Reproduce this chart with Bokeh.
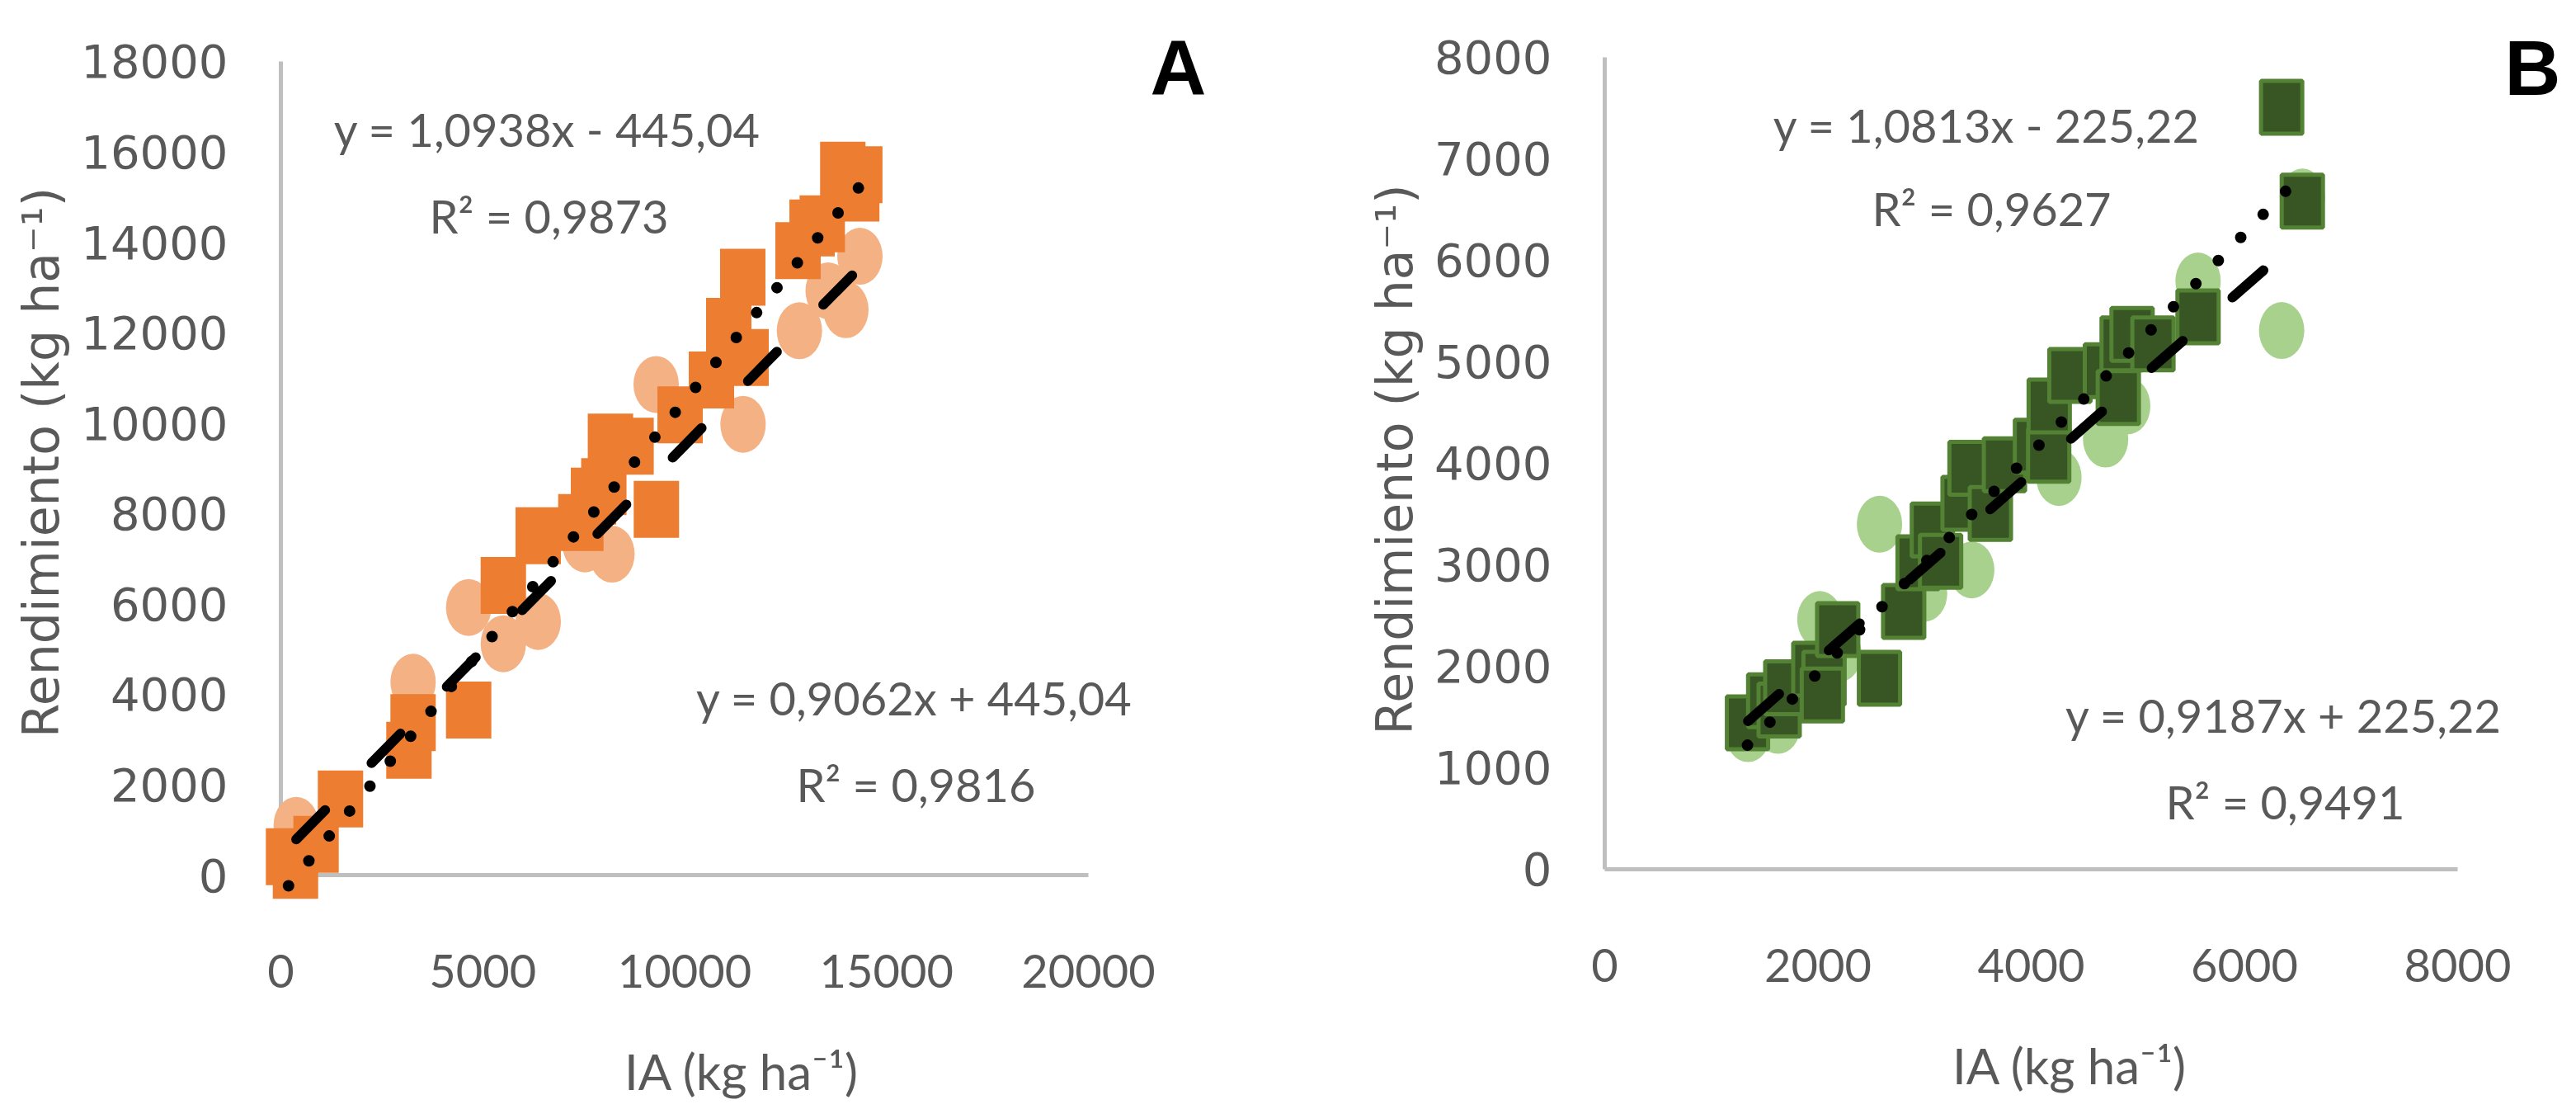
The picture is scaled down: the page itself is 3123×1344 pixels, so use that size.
from bokeh.plotting import figure
from bokeh.models import Range1d, FixedTicker, Label
from bokeh.layouts import row
from bokeh.embed import file_html
from bokeh.resources import INLINE

# ---------------- Panel A data (IA vs Rendimiento) ----------------
a_sq_x = [190, 362, 872, 1477, 3172, 3275, 4651, 5510, 6374, 7430, 7743, 7999, 8163,
          8674, 9301, 9888, 10664, 11093, 11522, 11440, 12809, 13157, 13409, 13917, 14338, 14263]
a_sq_y = [407, 104, 681, 1685, 2763, 3372, 3651, 6407, 7508, 7800, 8385, 8593, 9578,
          9487, 8092, 10182, 10952, 12139, 11451, 13224, 13813, 14318, 14409, 15595, 15493, 15090]
a_ci_x = [380, 3275, 4651, 5510, 6374, 7532, 8200, 9295, 11447, 12843, 13555, 13994, 14342]
a_ci_y = [1100, 4266, 5920, 5117, 5610, 7327, 7101, 10855, 9973, 12042, 12925, 12508, 13690]
a_sq_eq = (1.0938, -445.04)
a_ci_eq = (0.9062, 445.04)
a_sq_text = ["y = 1,0938x - 445,04", "R² = 0,9873"]
a_ci_text = ["y = 0,9062x + 445,04", "R² = 0,9816"]
a_xticks = [0, 5000, 10000, 15000, 20000]
a_yticks = [0, 2000, 4000, 6000, 8000, 10000, 12000, 14000, 16000, 18000]

# ---------------- Panel B data ----------------
b_sq_x = [1339, 1538, 1636, 1698, 1961, 2057, 2041, 2185, 2577, 2804, 2939, 3073, 3150, 3361,
          3426, 3617, 3749, 4040, 4164, 4169, 4363, 4696, 4817, 4853, 4946, 5142, 5565, 6349, 6543]
b_sq_y = [1443, 1660, 1570, 1788, 1972, 1882, 1717, 2362, 1882, 2541, 3021, 3344, 3035, 3605,
          3952, 3507, 3985, 4168, 4079, 4565, 4866, 4912, 4649, 5177, 5270, 5177, 5443, 7508, 6583]
b_ci_x = [1344, 1625, 2018, 2196, 2577, 3000, 3442, 4260, 4698, 4905, 5565, 6349, 6543]
b_ci_y = [1337, 1418, 2461, 2124, 3400, 2720, 2950, 3860, 4239, 4565, 5796, 5308, 6623]
b_sq_eq = (1.0813, -225.22)
b_ci_eq = (0.9187, 225.22)
b_sq_text = ["y = 1,0813x - 225,22", "R² = 0,9627"]
b_ci_text = ["y = 0,9187x + 225,22", "R² = 0,9491"]
b_xticks = [0, 2000, 4000, 6000, 8000]
b_yticks = [0, 1000, 2000, 3000, 4000, 5000, 6000, 7000, 8000]

x_title = "IA (kg ha⁻¹)"
y_title = "Rendimiento (kg ha⁻¹)"

TXT = "#595959"
AXC = "#BFBFBF"
NUMFONT = "Lato"


def style_axes(p, xticks, yticks):
    p.xaxis.bounds = (xticks[0], xticks[-1])
    p.yaxis.bounds = (yticks[0], yticks[-1])
    p.xaxis.ticker = FixedTicker(ticks=xticks)
    p.yaxis.ticker = FixedTicker(ticks=yticks)
    for ax in (p.xaxis, p.yaxis):
        ax.axis_line_color = None
        ax.major_tick_line_color = None
        ax.minor_tick_line_color = None
        ax.major_tick_in = 0
        ax.major_tick_out = 0
        ax.minor_tick_in = 0
        ax.minor_tick_out = 0
        ax.major_label_text_color = TXT
        ax.axis_label_text_color = TXT
        ax.axis_label_text_font_style = "normal"
    p.xaxis.major_label_text_font = NUMFONT
    p.xaxis.major_label_text_font_size = "56px"
    p.xaxis.major_label_standoff = 58
    p.xaxis.axis_label = x_title
    p.xaxis.axis_label_text_font = NUMFONT
    p.xaxis.axis_label_text_font_size = "60px"
    p.xaxis.axis_label_standoff = 62
    p.yaxis.major_label_text_font = "DejaVu Sans"
    p.yaxis.major_label_text_font_size = "56px"
    p.yaxis.major_label_standoff = 30
    p.yaxis.axis_label = y_title
    p.yaxis.axis_label_text_font = "DejaVu Sans"
    p.yaxis.axis_label_text_font_size = "60px"
    p.yaxis.axis_label_standoff = 10
    p.xgrid.visible = False
    p.ygrid.visible = False


def make_panel(xr, yr, fw, fh, borders, sqx, sqy, cix, ciy, sq_fill, sq_line, ci_fill,
               sq_eq, ci_eq, sq_text, ci_text, sq_pos, ci_pos, letter, letter_pos, xticks, yticks):
    lb, rb, tb, bb = borders
    p = figure(frame_width=fw, frame_height=fh, x_range=Range1d(*xr), y_range=Range1d(*yr),
               min_border_left=lb, min_border_right=rb, min_border_top=tb, min_border_bottom=bb,
               toolbar_location=None, output_backend="svg", outline_line_color=None,
               background_fill_color="white", border_fill_color="white")
    style_axes(p, xticks, yticks)
    # axis lines (at the zero values)
    p.line([xticks[0], xticks[-1]], [yticks[0], yticks[0]], line_color=AXC, line_width=5)
    p.line([xticks[0], xticks[0]], [yticks[0], yticks[-1]], line_color=AXC, line_width=5)
    # circles (light) under squares
    p.ellipse(x=cix, y=ciy, width=55, height=69, width_units="screen", height_units="screen",
              fill_color=ci_fill, line_color=None)
    if sq_line is None:
        p.rect(x=sqx, y=sqy, width=55, height=69, width_units="screen", height_units="screen",
               fill_color=sq_fill, line_color=None)
    else:
        p.rect(x=sqx, y=sqy, width=50, height=64, width_units="screen", height_units="screen",
               fill_color=sq_fill, line_color=sq_line, line_width=5)
    # trend lines
    x0, x1 = min(sqx), max(sqx)
    p.line([x0, x1], [sq_eq[0] * x0 + sq_eq[1], sq_eq[0] * x1 + sq_eq[1]],
           line_color="black", line_width=14, line_dash="0 39", line_cap="round")
    c0, c1 = min(cix), max(cix)
    p.line([c0, c1], [ci_eq[0] * c0 + ci_eq[1], ci_eq[0] * c1 + ci_eq[1]],
           line_color="black", line_width=12, line_dash="50 80", line_cap="round")
    # equation labels
    for texts, pos in ((sq_text, sq_pos), (ci_text, ci_pos)):
        for t, (lx, ly) in zip(texts, pos):
            p.add_layout(Label(x=lx, y=ly, text=t, text_font=NUMFONT, text_font_size="56px",
                               text_color=TXT, text_align="center", text_baseline="middle"))
    p.add_layout(Label(x=letter_pos[0], y=letter_pos[1], text=letter, text_font="Liberation Sans",
                       text_font_style="bold", text_font_size="94px", text_color="black",
                       text_align="center", text_baseline="middle"))
    return p


pA = make_panel((-694.6, 23534), (-693.7, 18949), 1186, 1076, (306, 100, 22, 230),
                a_sq_x, a_sq_y, a_ci_x, a_ci_y, "#ED7D31", None, "#F4B183",
                a_sq_eq, a_ci_eq, a_sq_text, a_ci_text,
                [(6600, 16503), (6640, 14586)], [(15690, 3925), (15730, 2008)],
                "A", (22227, 17854), a_xticks, a_yticks)

pB = make_panel((-263, 8990), (-309, 8382), 1196, 1069, (319, 0, 22, 237),
                b_sq_x, b_sq_y, b_ci_x, b_ci_y, "#375623", "#548235", "#A9D18E",
                b_sq_eq, b_ci_eq, b_sq_text, b_ci_text,
                [(3582, 7333), (3629, 6512)], [(6368, 1520), (6383, 667)],
                "B", (8704, 7894), b_xticks, b_yticks)

layout = row(pA, pB)
open("out.html", "w").write(file_html(layout, INLINE))
